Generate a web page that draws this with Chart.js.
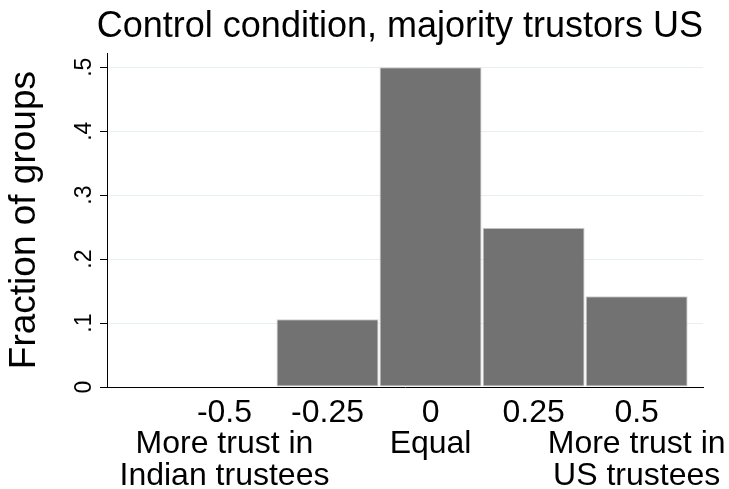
<!DOCTYPE html>
<html>
<head>
<meta charset="utf-8">
<script src="https://cdn.jsdelivr.net/npm/chart.js@4.4.1/dist/chart.umd.min.js"></script>
<style>
  html, body { margin: 0; padding: 0; background: #fff; }
  #wrap { width: 729px; height: 489px; }
</style>
</head>
<body>
<div id="wrap"><canvas id="histChart" width="729" height="489"></canvas></div>
<script>
// histogram bins (difference in trust) and fraction of groups in each
const binCenters = [-0.5, -0.25, 0, 0.25, 0.5];
const fractions = [0, 0.106, 0.5, 0.249, 0.142];

// axis ticks
const xTickValues = [-0.5, -0.25, 0, 0.25, 0.5];
const xTickLabels = [
  ['-0.5', 'More trust in', 'Indian trustees'],
  ['-0.25'],
  ['0', 'Equal'],
  ['0.25'],
  ['0.5', 'More trust in', 'US trustees'],
];
const yTickValues = [0, 0.1, 0.2, 0.3, 0.4, 0.5];
const yTickLabels = ['0', '.1', '.2', '.3', '.4', '.5'];

const FONT = "'Liberation Sans', Arial, Helvetica, sans-serif";

const ctx = document.getElementById('histChart').getContext('2d');
new Chart(ctx, {
  type: 'bar',
  data: {
    datasets: [{
      data: binCenters.map((x, i) => ({ x: x, y: fractions[i] })),
      backgroundColor: '#727272',
      borderColor: '#cfcfcf',
      borderWidth: 1,
      borderSkipped: false,
      barPercentage: 1,
      categoryPercentage: 0.99,
    }],
  },
  options: {
    responsive: false,
    animation: false,
    layout: { padding: { left: 0, right: 26, top: 0, bottom: 0 } },
    plugins: {
      legend: { display: false },
      tooltip: { enabled: false },
      title: {
        display: true,
        text: 'Control condition, majority trustors US',
        align: 'end',
        color: '#000',
        font: { family: FONT, size: 36, weight: 'normal', lineHeight: 1.2 },
        padding: { top: 5, bottom: 5 },
      },
    },
    scales: {
      x: {
        type: 'linear',
        min: -0.785,
        max: 0.661,
        offset: false,
        grid: { display: false, drawTicks: false },
        border: { display: true, color: '#000', width: 1 },
        afterBuildTicks: (scale) => {
          scale.ticks = xTickValues.map(v => ({ value: v }));
        },
        afterFit: (scale) => {
          scale.height = 102;
          // tick labels may run past the plot edge, as in the original
          scale.paddingRight = 0;
          scale.paddingLeft = 0;
        },
        ticks: {
          color: '#000',
          padding: 10,
          maxRotation: 0,
          autoSkip: false,
          font: { family: FONT, size: 32, lineHeight: 0.99 },
          callback: (value) => {
            const i = xTickValues.indexOf(value);
            return i >= 0 ? xTickLabels[i] : '';
          },
        },
      },
      y: {
        min: 0,
        max: 0.522,
        grid: {
          color: '#e6eff1',
          lineWidth: 1,
          tickColor: '#000',
          tickLength: 7,
        },
        border: { display: true, color: '#000', width: 1 },
        afterBuildTicks: (scale) => {
          scale.ticks = yTickValues.map(v => ({ value: v }));
        },
        afterFit: (scale) => { scale.width = 107; },
        title: {
          display: true,
          text: 'Fraction of groups',
          color: '#000',
          font: { family: FONT, size: 37, lineHeight: 1.2 },
          padding: { top: 3, bottom: 4 },
        },
        ticks: {
          color: '#000',
          padding: 6,
          minRotation: 90,
          maxRotation: 90,
          crossAlign: 'center',
          font: { family: FONT, size: 23 },
          callback: (value) => {
            const i = yTickValues.indexOf(value);
            return i >= 0 ? yTickLabels[i] : '';
          },
        },
      },
    },
  },
});
</script>
</body>
</html>
